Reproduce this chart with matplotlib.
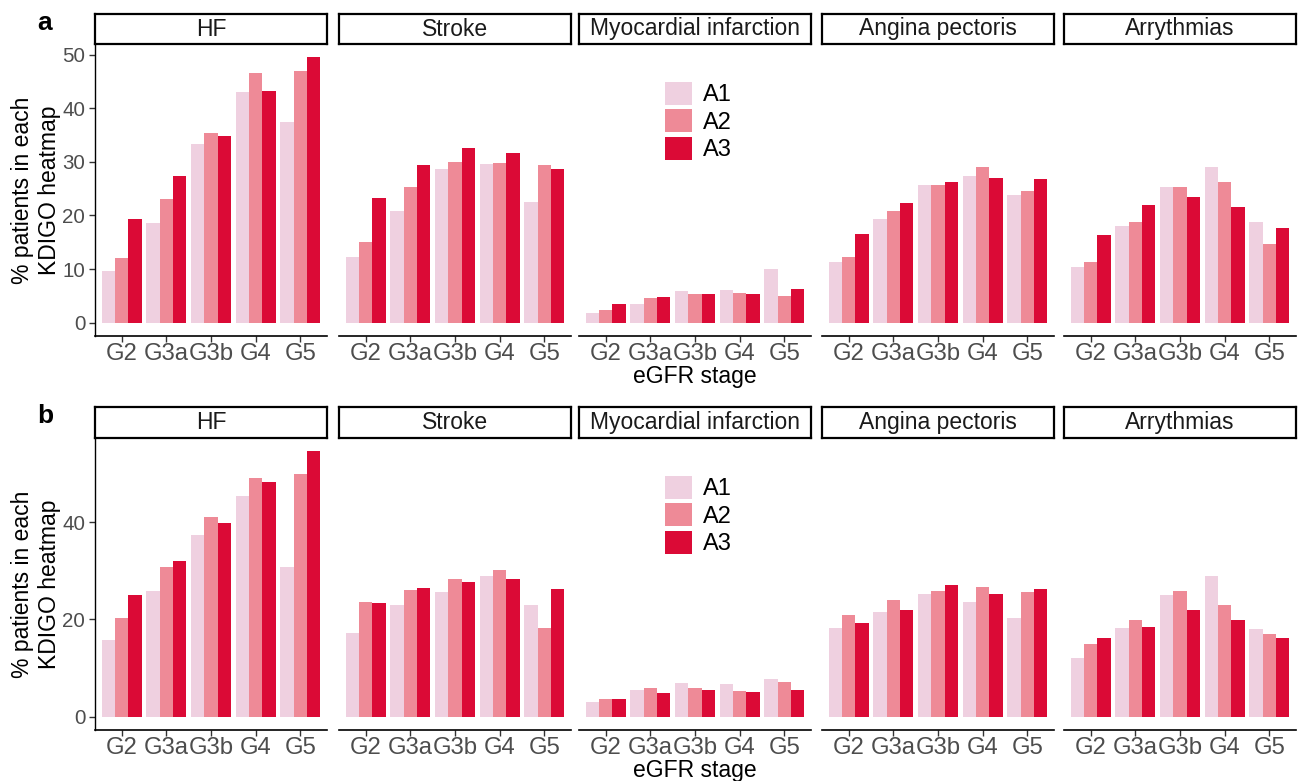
import matplotlib
matplotlib.use("Agg")
import matplotlib.pyplot as plt
from matplotlib.patches import Patch
import numpy as np

plt.rcParams['font.family'] = ['Liberation Sans', 'DejaVu Sans']

stages = ['G2', 'G3a', 'G3b', 'G4', 'G5']
albuminuria = ['A1', 'A2', 'A3']
outcomes = ['HF', 'Stroke', 'Myocardial infarction', 'Angina pectoris', 'Arrythmias']
colors = ['#EFD0E0', '#EE8A97', '#DB0A36']

# % of patients per KDIGO cell; rows A1..A3, columns G2..G5
# panel a
a_hf = [[9.6, 18.6, 33.4, 43.1, 37.5],
        [12.0, 23.1, 35.3, 46.5, 46.9],
        [19.3, 27.4, 34.9, 43.3, 49.5]]
a_stroke = [[12.2, 20.8, 28.7, 29.6, 22.5],
            [15.0, 25.3, 30.0, 29.8, 29.4],
            [23.3, 29.4, 32.5, 31.6, 28.7]]
a_mi = [[1.9, 3.4, 5.9, 6.1, 10.0],
        [2.3, 4.6, 5.3, 5.5, 4.9],
        [3.4, 4.8, 5.3, 5.3, 6.2]]
a_angina = [[11.3, 19.3, 25.7, 27.4, 23.8],
            [12.2, 20.8, 25.7, 29.1, 24.6],
            [16.5, 22.3, 26.3, 27.0, 26.8]]
a_arr = [[10.4, 18.0, 25.3, 29.1, 18.8],
         [11.3, 18.8, 25.3, 26.3, 14.7],
         [16.3, 22.0, 23.5, 21.6, 17.7]]

# panel b
b_hf = [[15.7, 25.8, 37.4, 45.4, 30.8],
        [20.4, 30.8, 41.1, 49.2, 50.0],
        [25.0, 32.0, 39.9, 48.3, 54.6]]
b_stroke = [[17.2, 23.0, 25.7, 29.0, 23.0],
            [23.6, 26.1, 28.3, 30.2, 18.2],
            [23.4, 26.5, 27.7, 28.3, 26.3]]
b_mi = [[3.1, 5.6, 7.0, 6.8, 7.7],
        [3.7, 6.0, 6.0, 5.2, 7.2],
        [3.7, 4.8, 5.4, 5.0, 5.4]]
b_angina = [[18.2, 21.5, 25.2, 23.7, 20.4],
            [21.0, 24.0, 25.9, 26.6, 25.6],
            [19.2, 21.9, 27.1, 25.2, 26.3]]
b_arr = [[12.1, 18.2, 25.0, 28.9, 18.0],
         [15.0, 19.9, 25.9, 22.9, 17.0],
         [16.1, 18.4, 21.9, 19.9, 16.1]]

panel_a = [a_hf, a_stroke, a_mi, a_angina, a_arr]
panel_b = [b_hf, b_stroke, b_mi, b_angina, b_arr]

W, H = 1304, 781
fig = plt.figure(figsize=(W / 100, H / 100), dpi=100)


def box(x0, y0, x1, y1):
    return [x0 / W, 1 - y1 / H, (x1 - x0) / W, (y1 - y0) / H]


lefts = [95, 339, 579, 822, 1064]
pw = 232
grey = '#4D4D4D'


def draw_row(data, strip_top, strip_bot, plot_bot, yticks, letter, legend_top, xlab_y):
    ymax = max(max(max(r) for r in d) for d in data)
    x = np.arange(1, len(stages) + 1)
    for i, (name, vals) in enumerate(zip(outcomes, data)):
        x0 = lefts[i]
        ax = fig.add_axes(box(x0, strip_bot, x0 + pw, plot_bot))
        for j in range(3):
            ax.bar(x + (j - 1) * 0.3, vals[j], width=0.3, color=colors[j], linewidth=0)
        ax.set_xlim(0.4, 5.6)
        ax.set_ylim(-0.05 * ymax, 1.05 * ymax)
        ax.set_xticks(x)
        ax.set_xticklabels(stages, fontsize=17.2, color=grey)
        ax.tick_params(axis='x', length=4, width=1, color='#333333', pad=1)
        for s in ['top', 'right']:
            ax.spines[s].set_visible(False)
        ax.spines['bottom'].set_linewidth(1.2)
        if i == 0:
            ax.set_yticks(yticks)
            ax.set_yticklabels([str(t) for t in yticks], fontsize=14.8, color=grey)
            ax.tick_params(axis='y', length=4, width=1, color='#333333', pad=3)
            ax.spines['left'].set_linewidth(1.0)
        else:
            ax.spines['left'].set_visible(False)
            ax.set_yticks([])

        # facet strip
        sax = fig.add_axes(box(x0, strip_top, x0 + pw, strip_bot))
        sax.set_xticks([])
        sax.set_yticks([])
        for s in sax.spines.values():
            s.set_linewidth(1.6)
            s.set_color('black')
        sax.text(0.5, 0.5, name, ha='center', va='center', fontsize=16.5,
                 color='#1A1A1A', transform=sax.transAxes)

    fig.text(36 / W, 1 - (strip_bot + plot_bot) / 2 / H,
             '% patients in each\nKDIGO heatmap', rotation=90,
             ha='center', va='center', fontsize=16.5)
    fig.text(695 / W, 1 - xlab_y / H, 'eGFR stage', ha='center', va='center', fontsize=16.5)
    fig.text(45 / W, 1 - (strip_top + 16) / H, letter, ha='center', va='baseline',
             fontsize=19, fontweight='bold')

    handles = [Patch(facecolor=c, edgecolor='none') for c in colors]
    fig.legend(handles, albuminuria, loc='upper left',
               bbox_to_anchor=(665 / W, 1 - legend_top / H),
               frameon=False, fontsize=17, handlelength=1.15, handleheight=1.1,
               labelspacing=0.13, handletextpad=0.45, borderpad=0, borderaxespad=0)


draw_row(panel_a, 14, 44, 336, [0, 10, 20, 30, 40, 50], 'a', 82, 377)
draw_row(panel_b, 407, 438, 730, [0, 20, 40], 'b', 476, 771)

fig.savefig('out.png', dpi=100)
